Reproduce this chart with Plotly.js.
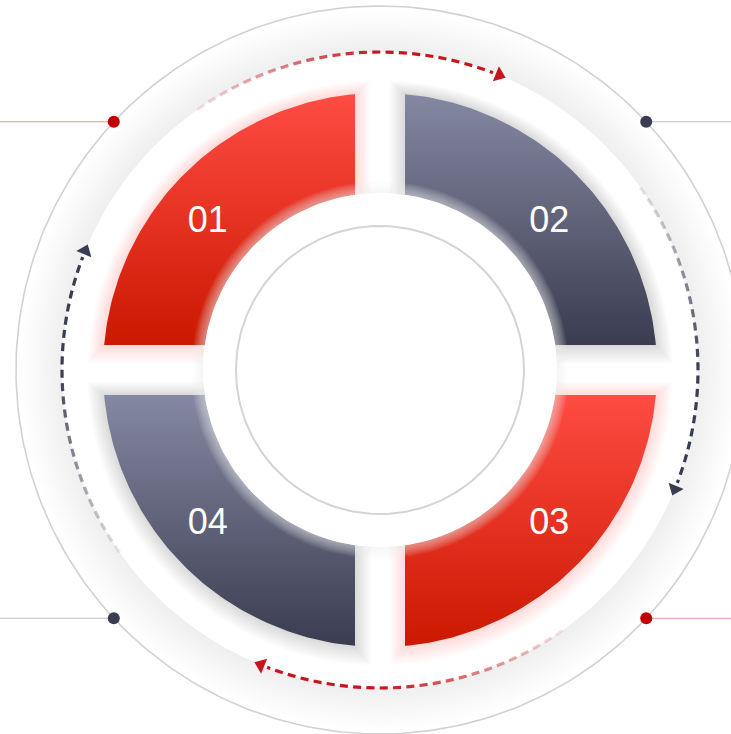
<!DOCTYPE html>
<html><head><meta charset="utf-8">
<script src="https://cdn.plot.ly/plotly-3.0.1.min.js"></script>
<style>html,body{margin:0;padding:0;background:#fff;}#chart{width:731px;height:734px;}</style>
</head><body><div id="chart"></div>
<script>
// ---- data ----
const labels = ['01', '02', '03', '04'];
const values = [1, 1, 1, 1];
const segmentTheme = ['red', 'gray', 'red', 'gray'];
const dotColors = ['#c00000', '#3a3d50', '#c00000', '#3a3d50'];

// ---- styles ----
const themes = {
  red:  {top: '#ff4c44', bottom: '#cb1800', glow: 'rgba(235,50,40,ALPHA)', arrow: [200, 20, 28]},
  gray: {top: '#8588a2', bottom: '#3a3d50', glow: 'rgba(50,52,72,ALPHA)', arrow: [58, 61, 80]}
};
const R_OUTER_LINE = 364, R_HALO = 318, R_SEG_OUT = 277, R_SEG_IN = 177;
const R_INNER_LINE = 144, GAP = 25, R_ARROW = 318, R_LABEL = 228;
const START_ANGLE = 180;
const X_RANGE = [-380, 351], Y_RANGE = [-364, 370];

const rad = d => d * Math.PI / 180;
function arcPts(r, a0, a1, n) {
  const xs = [], ys = [];
  for (let i = 0; i <= n; i++) {
    const a = rad(a0 + (a1 - a0) * i / n);
    xs.push(r * Math.cos(a)); ys.push(r * Math.sin(a));
  }
  return [xs, ys];
}
function disc(r, color) {
  const [x, y] = arcPts(r, 0, 360, 180);
  return {type: 'scatter', mode: 'lines', x, y, fill: 'toself', fillcolor: color,
          line: {width: 0}, hoverinfo: 'skip', showlegend: false};
}
function sectorPoly(a, b, Ro, Ri, g) {
  const o0 = a - Math.asin(g / Ro) * 180 / Math.PI, o1 = b + Math.asin(g / Ro) * 180 / Math.PI;
  const i0 = b + Math.asin(g / Ri) * 180 / Math.PI, i1 = a - Math.asin(g / Ri) * 180 / Math.PI;
  const [ox, oy] = arcPts(Ro, o0, o1, 80);
  const [ix, iy] = arcPts(Ri, i0, i1, 60);
  return [ox.concat(ix, [ox[0]]), oy.concat(iy, [oy[0]])];
}
const shiftH = (t, s) => t + s * Math.sign(Math.cos(rad(t))) * -Math.sign(Math.sin(rad(t)));

const total = values.reduce((p, c) => p + c, 0);
const bounds = [];
let acc = START_ANGLE;
values.forEach(v => { const a = acc; acc -= 360 * v / total; bounds.push([a, acc]); });

const traces = [];
// outer soft halo
for (let k = 16; k >= 1; k--) traces.push(disc(R_HALO + 2.6 * k, 'rgba(0,0,0,0.005)'));
traces.push(disc(R_HALO, '#ffffff'));

// segment glows (slightly lowered, like a drop shadow)
bounds.forEach(([a, b], i) => {
  const th = themes[segmentTheme[i]];
  for (let k = 12; k >= 1; k--) {
    const d = 1.3 * k;
    const [x, y0] = sectorPoly(a, b, R_SEG_OUT + d, R_SEG_IN - d, GAP - d);
    const y = y0.map(v => v - 0.25 * k);
    traces.push({type: 'scatter', mode: 'lines', x, y, fill: 'toself',
      fillcolor: th.glow.replace('ALPHA', segmentTheme[i] === 'red' ? 0.016 : 0.014),
      line: {width: 0}, hoverinfo: 'skip', showlegend: false});
  }
});
// segments
bounds.forEach(([a, b], i) => {
  const th = themes[segmentTheme[i]];
  const [x, y] = sectorPoly(a, b, R_SEG_OUT, R_SEG_IN, GAP);
  traces.push({type: 'scatter', mode: 'lines', x, y, fill: 'toself',
    fillgradient: {type: 'vertical', colorscale: [[0, th.bottom], [1, th.top]]},
    line: {width: 0}, hoverinfo: 'skip', showlegend: false, name: labels[i]});
});
// inner disc glow + disc
for (let k = 9; k >= 1; k--) traces.push(disc(R_SEG_IN + 1.3 * k, 'rgba(238,238,240,0.075)'));
traces.push(disc(R_SEG_IN, '#ffffff'));
// inner thin circle
(() => { const [x, y] = arcPts(R_INNER_LINE, 0, 360, 200);
  traces.push({type: 'scatter', mode: 'lines', x, y, line: {color: '#d4d4d4', width: 2},
    hoverinfo: 'skip', showlegend: false}); })();
// outer thin circle
(() => { const [x, y] = arcPts(R_OUTER_LINE, 0, 360, 300);
  traces.push({type: 'scatter', mode: 'lines', x, y, line: {color: '#d2d2d2', width: 1.6},
    hoverinfo: 'skip', showlegend: false}); })();

// dashed arrows (one per segment, following its end boundary)
const ARROW_LEAD = 35, ARROW_TAIL = 23, DASH = 1.45, SPACE = 0.95, HEAD = 2.2;
bounds.forEach(([a, b], i) => {
  const c = themes[segmentTheme[i]].arrow;
  const s = b + ARROW_LEAD, e = b - ARROW_TAIL + HEAD;
  const span = s - e;
  for (let t0 = 0; t0 < span; t0 += DASH + SPACE) {
    const t1 = Math.min(span, t0 + DASH);
    const f = (t0 + t1) / 2 / span;
    const alpha = 0.1 + 0.9 * Math.min(1, f / 0.62);
    const [x, y] = arcPts(R_ARROW, s - t0, s - t1, 4);
    traces.push({type: 'scatter', mode: 'lines', x, y,
      line: {color: `rgba(${c[0]},${c[1]},${c[2]},${alpha.toFixed(3)})`, width: 3.2},
      hoverinfo: 'skip', showlegend: false});
  }
  const tip = b - ARROW_TAIL + 1.0;
  traces.push({type: 'scatter', mode: 'markers',
    x: [R_ARROW * Math.cos(rad(tip))], y: [R_ARROW * Math.sin(rad(tip))],
    marker: {symbol: 'triangle-up', size: 14, angle: 180 - tip,
             color: `rgb(${c[0]},${c[1]},${c[2]})`, line: {width: 0}},
    hoverinfo: 'skip', showlegend: false});
});

// dots with horizontal leader lines
bounds.forEach(([a, b], i) => {
  const mid = shiftH((a + b) / 2, 2);
  const dx = R_OUTER_LINE * Math.cos(rad(mid)), dy = R_OUTER_LINE * Math.sin(rad(mid));
  const edge = dx < 0 ? X_RANGE[0] : X_RANGE[1];
  const lc = segmentTheme[i] === 'red' ? 'rgba(200,20,28,0.45)' : 'rgba(120,120,130,0.45)';
  traces.push({type: 'scatter', mode: 'lines', x: [edge, dx], y: [dy, dy],
    line: {color: lc, width: 1}, hoverinfo: 'skip', showlegend: false});
  traces.push({type: 'scatter', mode: 'markers', x: [dx], y: [dy],
    marker: {size: 12, color: dotColors[i], line: {width: 0}},
    hoverinfo: 'skip', showlegend: false});
});

// labels
const lx = [], ly = [];
bounds.forEach(([a, b]) => {
  const m = shiftH((a + b) / 2, 3.5);
  lx.push(R_LABEL * Math.cos(rad(m)) - 1.5); ly.push(R_LABEL * Math.sin(rad(m)) - 4);
});
traces.push({type: 'scatter', mode: 'text', x: lx, y: ly, text: labels,
  textposition: 'middle center',
  textfont: {family: 'Liberation Sans, Arial, sans-serif', size: 36, color: '#ffffff'},
  hoverinfo: 'skip', showlegend: false});

const layout = {
  width: 731, height: 734, margin: {l: 0, r: 0, t: 0, b: 0},
  paper_bgcolor: '#ffffff', plot_bgcolor: '#ffffff', showlegend: false,
  xaxis: {range: X_RANGE, visible: false, fixedrange: true},
  yaxis: {range: Y_RANGE, visible: false, fixedrange: true},
  hovermode: false
};
Plotly.newPlot('chart', traces, layout, {staticPlot: true, displayModeBar: false});
</script></body></html>
